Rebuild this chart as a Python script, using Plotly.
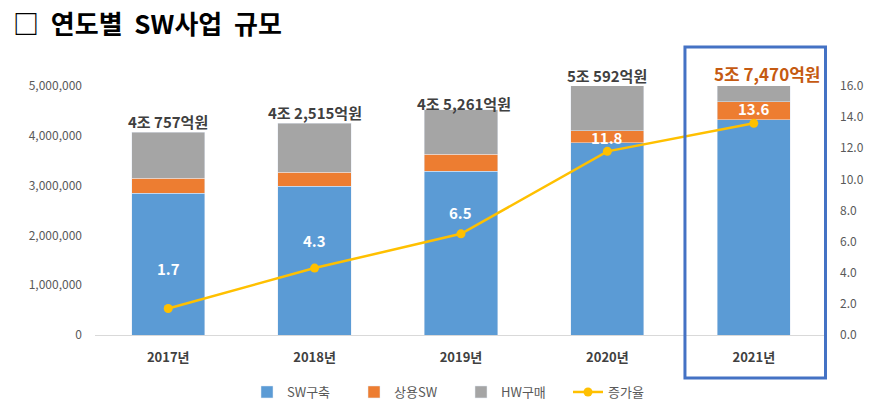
import plotly.graph_objects as go

years = ["2017년", "2018년", "2019년", "2020년", "2021년"]
sw_build = [2850000, 2990000, 3290000, 3860000, 4320000]
commercial_sw = [300000, 280000, 340000, 240000, 360000]
totals = [4075700, 4251500, 4526100, 5059200, 5747000]
hw_buy = [t - a - b for t, a, b in zip(totals, sw_build, commercial_sw)]
growth = [1.7, 4.3, 6.5, 11.8, 13.6]
total_labels = ["4조 757억원", "4조 2,515억원", "4조 5,261억원", "5조 592억원", "5조 7,470억원"]
left_ticks = [0, 1000000, 2000000, 3000000, 4000000, 5000000]
right_ticks = [0, 2, 4, 6, 8, 10, 12, 14, 16]

FONT = "Noto Sans CJK KR"
YMAX = 5000000

fig = go.Figure()
fig.add_trace(go.Bar(x=years, y=sw_build, name="SW구축", marker_color="#5B9BD5"))
fig.add_trace(go.Bar(x=years, y=commercial_sw, name="상용SW", marker_color="#ED7D31"))
fig.add_trace(go.Bar(x=years, y=hw_buy, name="HW구매", marker_color="#A5A5A5"))
fig.add_trace(go.Scatter(x=years, y=growth, name="증가율", yaxis="y2", mode="lines+markers",
                         line=dict(color="#FFC000", width=2.5),
                         marker=dict(color="#FFC000", size=9)))

# growth labels
label_shift = [40, 28, 21, 14, 15]
for xv, g, s in zip(years, growth, label_shift):
    fig.add_annotation(x=xv, y=g, yref="y2", text=f"<b>{g}</b>", showarrow=False,
                       yshift=s, font=dict(family=FONT, size=15, color="white"))

# total labels
total_shift = [11, 11, 6, 11, 13]
for i, (xv, t, lab, s) in enumerate(zip(years, totals, total_labels, total_shift)):
    last = i == len(years) - 1
    fig.add_annotation(x=xv, y=min(t, YMAX), yref="y", text=f"<b>{lab}</b>", showarrow=False,
                       yshift=s, xshift=13 if last else (3 if i == 2 else 0),
                       font=dict(family=FONT, size=17 if last else 15,
                                 color="#C55A11" if last else "#404040"))

# highlight box
fig.add_shape(type="rect", xref="x", yref="paper", x0=3.53, x1=4.49, y0=-0.173, y1=1.157,
              line=dict(color="#4472C4", width=3), fillcolor="rgba(0,0,0,0)")

fig.add_annotation(xref="paper", yref="paper", x=-0.115, y=1.257, xanchor="left", yanchor="middle",
                   text="<b>□\u00a0\u00a0연도별\u00a0\u00a0SW사업\u00a0\u00a0규모</b>", showarrow=False,
                   font=dict(family=FONT, size=26, color="black"))

fig.update_layout(
    width=889, height=414,
    margin=dict(l=95, r=62, t=86, b=79, autoexpand=False),
    barmode="stack", bargap=0.5,
    plot_bgcolor="white", paper_bgcolor="white",
    font=dict(family=FONT, color="#595959"),
    showlegend=True,
    legend=dict(orientation="h", x=0.5, xanchor="center", y=-0.229, yanchor="middle",
                traceorder="normal", font=dict(size=13, color="#595959"),
                entrywidth=62, entrywidthmode="pixels"),
    xaxis=dict(showline=True, linecolor="#D9D9D9", linewidth=1,
               tickfont=dict(size=13, color="#404040", family=FONT), ticklabelstandoff=10,
               tickprefix="<b>", ticksuffix="</b>"),
    yaxis=dict(range=[0, YMAX], tickvals=left_ticks, tickformat=",", showgrid=False,
               zeroline=False, tickfont=dict(size=12, color="#595959"), ticklabelstandoff=12),
    yaxis2=dict(range=[0, 16], tickvals=right_ticks, tickformat=".1f", overlaying="y",
                side="right", showgrid=False, zeroline=False,
                tickfont=dict(size=12, color="#595959"), ticklabelstandoff=12),
)

fig.write_html("out.html", config={"displayModeBar": False},
               post_script="document.body.style.margin='0';")
